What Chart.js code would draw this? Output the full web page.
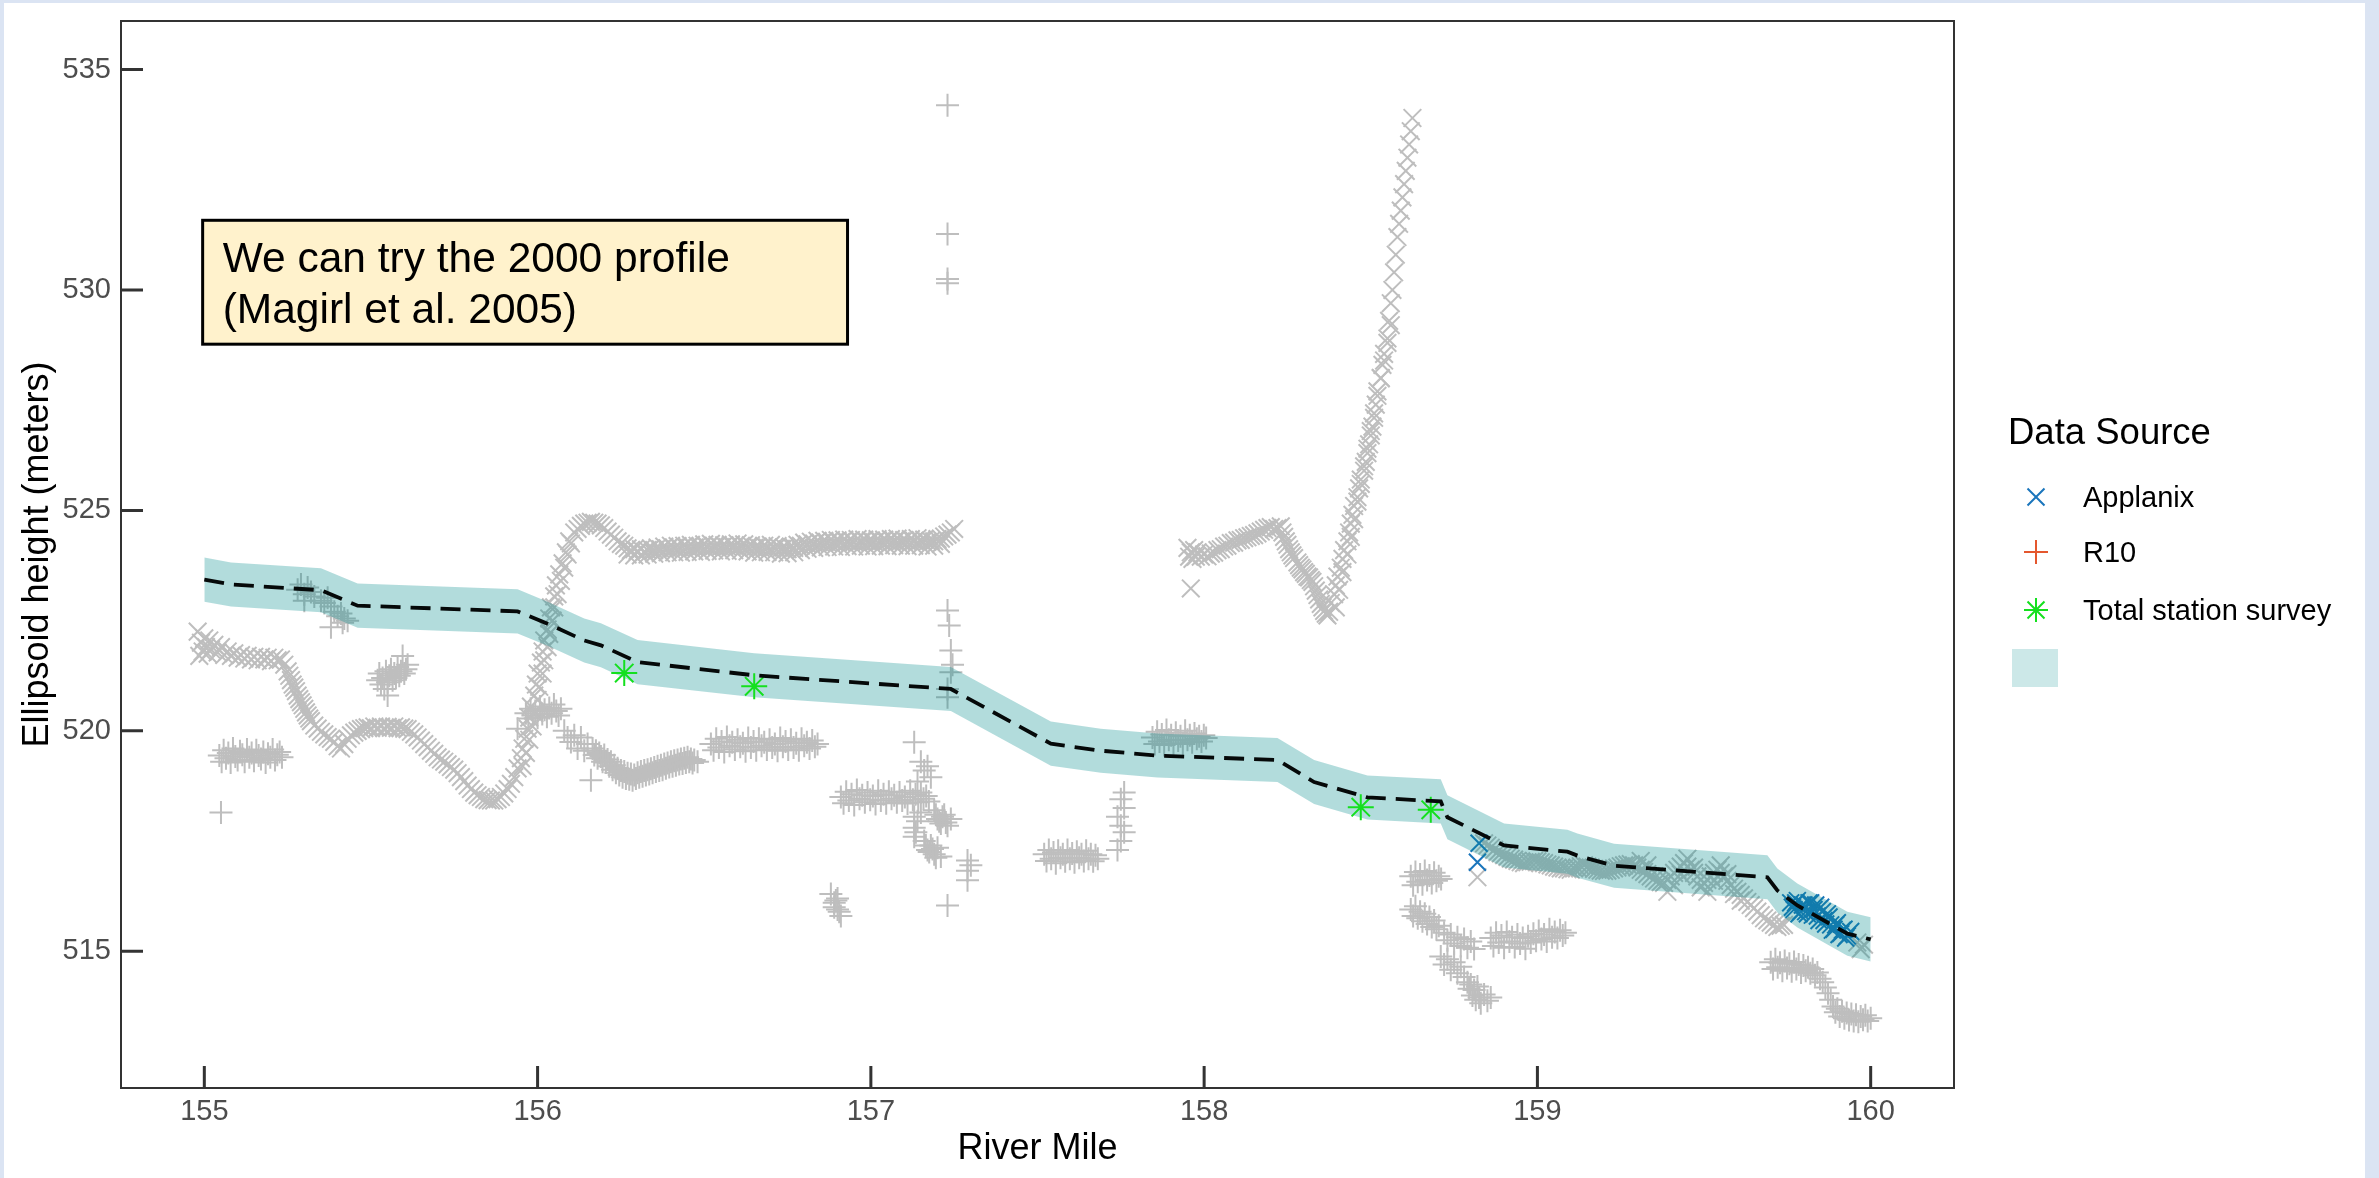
<!DOCTYPE html>
<html>
<head>
<meta charset="utf-8">
<title>River profile, miles 155-160</title>
<script src="https://cdn.jsdelivr.net/npm/chart.js@4.4.1/dist/chart.umd.min.js"></script>
<style>
  html, body { margin: 0; padding: 0; background: #dbe4f3; overflow: hidden; }
  #frame { position: absolute; left: 4px; top: 3px; width: 2361px; height: 1175px; background: #fff; }
  #chart { position: absolute; left: 0; top: 0; }
</style>
</head>
<body>
<div id="frame"></div>
<canvas id="chart" width="2379" height="1178"></canvas>
<script>
// axis ticks
const xTicks = [155, 156, 157, 158, 159, 160];
const yTicks = [515, 520, 525, 530, 535];

// 2000 longitudinal profile (river mile, ellipsoid height)
const profileMile = [155.00, 155.08, 155.35, 155.46, 155.94, 156.03, 156.14, 156.19, 156.30, 156.65,
  157.24, 157.54, 157.69, 157.86, 158.22, 158.33, 158.49, 158.71, 158.73, 158.90,
  159.09, 159.12, 159.23, 159.69, 159.72, 159.78, 159.93, 160.00];
const profileElev = [523.43, 523.32, 523.19, 522.84, 522.71, 522.43, 522.05, 521.94, 521.56, 521.26,
  520.95, 519.71, 519.55, 519.44, 519.34, 518.84, 518.49, 518.40, 518.04, 517.40,
  517.26, 517.17, 516.94, 516.68, 516.38, 516.04, 515.40, 515.27];
const bandHalfWidth = 0.5; // tolerance around the profile (m)

const sourceLabels = ['Applanix', 'R10', 'Total station survey'];

// points kept (inside tolerance)
const surveyPts = [[156.26, 521.31], [156.65, 521.01], [158.47, 518.27], [158.68, 518.21]];
const applanixPts = [[158.82, 517.02], [158.825, 517.45],
  [159.76, 516.1], [159.765, 516.0], [159.77, 515.95], [159.775, 516.1], [159.78, 516.15], [159.785, 515.85],
  [159.79, 515.9], [159.795, 516.05], [159.80, 516.05], [159.805, 515.9], [159.81, 515.85], [159.815, 516.1],
  [159.82, 516.1], [159.825, 515.82], [159.83, 515.95], [159.835, 516.05], [159.84, 515.8], [159.845, 515.7],
  [159.85, 516.0], [159.855, 515.9], [159.86, 515.7], [159.865, 515.62], [159.87, 515.85], [159.875, 515.78],
  [159.88, 515.6], [159.885, 515.48], [159.89, 515.5], [159.895, 515.6], [159.90, 515.65], [159.905, 515.38],
  [159.91, 515.4], [159.915, 515.48], [159.92, 515.5], [159.925, 515.3], [159.93, 515.35], [159.94, 515.45]];
const r10Pts = [];

// points rejected (outside tolerance), drawn in grey
const applanixOut = [
  [154.98, 522.25], [154.985, 521.7], [154.99, 522.0], [154.995, 521.8], [155.00, 522.1], [155.005, 521.9],
  [155.01, 521.75], [155.015, 522.05], [155.02, 521.85], [155.03, 521.95], [155.04, 521.78], [155.05, 521.9],
  [155.06, 521.72], [155.07, 521.8], [155.08, 521.7], [155.09, 521.76], [155.10, 521.66], [155.11, 521.72],
  [155.12, 521.64], [155.13, 521.7], [155.14, 521.62], [155.15, 521.68], [155.16, 521.6], [155.17, 521.68],
  [155.18, 521.62], [155.19, 521.66], [155.20, 521.58], [155.21, 521.66], [155.22, 521.6], [155.23, 521.62],
  [155.24, 521.5], [155.25, 521.35], [155.255, 521.25], [155.26, 521.15], [155.265, 521.05], [155.27, 520.98],
  [155.275, 520.9], [155.28, 520.8], [155.285, 520.72], [155.29, 520.65], [155.295, 520.58], [155.30, 520.5],
  [155.305, 520.42], [155.31, 520.35], [155.315, 520.28], [155.32, 520.22], [155.33, 520.12], [155.34, 520.05],
  [155.35, 519.98], [155.36, 519.92], [155.37, 519.86], [155.38, 519.82], [155.39, 519.75], [155.40, 519.65],
  [155.41, 519.6], [155.42, 519.7], [155.43, 519.82], [155.44, 519.9], [155.45, 519.96], [155.46, 520.0],
  [155.47, 520.04], [155.48, 520.06], [155.49, 520.08], [155.50, 520.06], [155.51, 520.1], [155.52, 520.07],
  [155.53, 520.1], [155.54, 520.06], [155.55, 520.09], [155.56, 520.07], [155.57, 520.1], [155.58, 520.06],
  [155.59, 520.08], [155.60, 520.05], [155.61, 520.04], [155.62, 519.98], [155.63, 519.92], [155.64, 519.85],
  [155.65, 519.78], [155.66, 519.7], [155.67, 519.63], [155.68, 519.55], [155.69, 519.48], [155.70, 519.4],
  [155.71, 519.35], [155.72, 519.3], [155.73, 519.24], [155.74, 519.18], [155.75, 519.12], [155.76, 519.04],
  [155.77, 518.95], [155.78, 518.86], [155.79, 518.76], [155.80, 518.68], [155.81, 518.6], [155.82, 518.54],
  [155.83, 518.5], [155.84, 518.45], [155.85, 518.43], [155.86, 518.42], [155.87, 518.42], [155.88, 518.45],
  [155.89, 518.5], [155.90, 518.58], [155.91, 518.68], [155.92, 518.8], [155.93, 518.95],
  [155.94, 519.15], [155.95, 519.38], [155.955, 519.6], [155.96, 519.82], [155.97, 520.05], [155.975, 520.3],
  [155.98, 520.55], [155.99, 520.8], [155.995, 521.05], [156.0, 521.3], [156.01, 521.55], [156.015, 521.8],
  [156.02, 522.05], [156.03, 522.3], [156.035, 522.55], [156.04, 522.8], [156.05, 523.05], [156.055, 523.3],
  [156.065, 523.55], [156.075, 523.8], [156.085, 524.05], [156.095, 524.3],
  [155.955, 519.2], [155.965, 519.5], [155.975, 519.8], [155.985, 520.1], [155.99, 520.4], [156.0, 520.7],
  [156.005, 521.0], [156.015, 521.3], [156.02, 521.6], [156.03, 521.9], [156.035, 522.2], [156.045, 522.5],
  [156.05, 522.8], [156.06, 523.1], [156.07, 523.4], [156.08, 523.7], [156.09, 524.0], [156.1, 524.25],
  [156.11, 524.5], [156.12, 524.58], [156.13, 524.65], [156.14, 524.7], [156.15, 524.72], [156.16, 524.74],
  [156.17, 524.72], [156.18, 524.7], [156.19, 524.66], [156.20, 524.6], [156.21, 524.52], [156.22, 524.45],
  [156.23, 524.38], [156.24, 524.3], [156.25, 524.24],
  [156.26, 524.2], [156.27, 524.14], [156.28, 524.1], [156.29, 524.12], [156.30, 524.08], [156.31, 524.12],
  [156.32, 524.06], [156.33, 524.1], [156.34, 524.14], [156.35, 524.1], [156.36, 524.16], [156.37, 524.12],
  [156.38, 524.18], [156.39, 524.14], [156.40, 524.2], [156.41, 524.15], [156.42, 524.19], [156.43, 524.14],
  [156.44, 524.2], [156.45, 524.17], [156.46, 524.22], [156.47, 524.16], [156.48, 524.2], [156.49, 524.18],
  [156.50, 524.23], [156.51, 524.18], [156.52, 524.24], [156.53, 524.19], [156.54, 524.22], [156.55, 524.17],
  [156.56, 524.21], [156.57, 524.17], [156.58, 524.23], [156.59, 524.19], [156.60, 524.25], [156.61, 524.2],
  [156.62, 524.23], [156.63, 524.18], [156.64, 524.21], [156.65, 524.15], [156.66, 524.18], [156.67, 524.14],
  [156.68, 524.2], [156.69, 524.16], [156.70, 524.22], [156.71, 524.17], [156.72, 524.19], [156.73, 524.13],
  [156.74, 524.16], [156.75, 524.12], [156.76, 524.18], [156.77, 524.15], [156.78, 524.22], [156.79, 524.2],
  [156.80, 524.27], [156.81, 524.23], [156.82, 524.29], [156.83, 524.25], [156.84, 524.31], [156.85, 524.26],
  [156.86, 524.31], [156.87, 524.27], [156.88, 524.33], [156.89, 524.28], [156.90, 524.32], [156.91, 524.28],
  [156.92, 524.34], [156.93, 524.29], [156.94, 524.33], [156.95, 524.28], [156.96, 524.35], [156.97, 524.3],
  [156.98, 524.34], [156.99, 524.29], [157.00, 524.32], [157.01, 524.28], [157.02, 524.35], [157.03, 524.3],
  [157.04, 524.34], [157.05, 524.3], [157.06, 524.35], [157.07, 524.31], [157.08, 524.36], [157.09, 524.3],
  [157.10, 524.33], [157.11, 524.29], [157.12, 524.35], [157.13, 524.31], [157.14, 524.37], [157.15, 524.32],
  [157.16, 524.34], [157.17, 524.29], [157.18, 524.31], [157.19, 524.3], [157.20, 524.35], [157.21, 524.36],
  [157.22, 524.41], [157.23, 524.45], [157.24, 524.5], [157.25, 524.58],
  [156.27, 524.0], [156.29, 523.98], [156.31, 523.98], [156.33, 524.0], [156.35, 524.02], [156.37, 524.03],
  [156.39, 524.05], [156.41, 524.05], [156.43, 524.04], [156.45, 524.06], [156.47, 524.07], [156.49, 524.06],
  [156.51, 524.08], [156.53, 524.09], [156.55, 524.07], [156.57, 524.08], [156.59, 524.1], [156.61, 524.09],
  [156.63, 524.07], [156.65, 524.04], [156.67, 524.05], [156.69, 524.06], [156.71, 524.05], [156.73, 524.02],
  [156.75, 524.03], [156.77, 524.05], [156.79, 524.1], [156.81, 524.13], [156.83, 524.15], [156.85, 524.16],
  [156.87, 524.17], [156.89, 524.18], [156.91, 524.17], [156.93, 524.19], [156.95, 524.18], [156.97, 524.2],
  [156.99, 524.18], [157.01, 524.19], [157.03, 524.2], [157.05, 524.19], [157.07, 524.21], [157.09, 524.2],
  [157.11, 524.19], [157.13, 524.2], [157.15, 524.21], [157.17, 524.18], [157.19, 524.2], [157.21, 524.24],
  [157.96, 523.23], [157.95, 524.15], [157.955, 523.95], [157.96, 524.05], [157.965, 523.9], [157.97, 524.1],
  [157.975, 523.95], [157.98, 524.05], [157.99, 523.95], [158.00, 524.0], [158.01, 523.96], [158.02, 524.02],
  [158.03, 524.04], [158.04, 524.1], [158.05, 524.12], [158.06, 524.18], [158.07, 524.2], [158.08, 524.26],
  [158.09, 524.27], [158.10, 524.32], [158.11, 524.33], [158.12, 524.37], [158.13, 524.39], [158.14, 524.42],
  [158.15, 524.44], [158.16, 524.48], [158.17, 524.52], [158.18, 524.56], [158.19, 524.6], [158.20, 524.62],
  [158.21, 524.58], [158.22, 524.6], [158.23, 524.64], [158.235, 524.5], [158.24, 524.4], [158.245, 524.3],
  [158.25, 524.22], [158.255, 524.12], [158.26, 524.05], [158.265, 523.98], [158.27, 523.92], [158.28, 523.82],
  [158.285, 523.76], [158.29, 523.7], [158.295, 523.66], [158.30, 523.6], [158.305, 523.56], [158.31, 523.5],
  [158.315, 523.48], [158.32, 523.42], [158.325, 523.38], [158.33, 523.28], [158.335, 523.18], [158.34, 523.08],
  [158.345, 522.98], [158.35, 522.88], [158.355, 522.8], [158.36, 522.72], [158.365, 522.66], [158.37, 522.62],
  [158.375, 522.7], [158.38, 522.9], [158.39, 523.1], [158.395, 523.3], [158.40, 523.5], [158.41, 523.7],
  [158.415, 523.9], [158.42, 524.1], [158.43, 524.3], [158.435, 524.5], [158.44, 524.7], [158.445, 524.9],
  [158.45, 525.1], [158.46, 525.3], [158.465, 525.5], [158.47, 525.7], [158.48, 525.9], [158.485, 526.1],
  [158.49, 526.3], [158.495, 526.5], [158.50, 526.7], [158.505, 526.9], [158.51, 527.1], [158.515, 527.4],
  [158.52, 527.7], [158.53, 528.0], [158.535, 528.3], [158.54, 528.55], [158.55, 528.9], [158.555, 529.3],
  [158.56, 529.7], [158.565, 530.0], [158.57, 530.4], [158.575, 530.8], [158.58, 531.2], [158.585, 531.5],
  [158.59, 531.8], [158.595, 532.1], [158.60, 532.4], [158.605, 532.7], [158.61, 533.0], [158.615, 533.3],
  [158.62, 533.6], [158.625, 533.9],
  [158.395, 522.8], [158.405, 523.2], [158.415, 523.6], [158.43, 524.0], [158.44, 524.4], [158.45, 524.8],
  [158.46, 525.2], [158.47, 525.6], [158.48, 526.0], [158.49, 526.4], [158.50, 526.8], [158.51, 527.2],
  [158.52, 527.6], [158.53, 528.0], [158.54, 528.4], [158.55, 528.8], [158.56, 529.2],
  [158.82, 516.68], [158.84, 517.45], [158.85, 517.4], [158.86, 517.35], [158.87, 517.3], [158.88, 517.25],
  [158.89, 517.22], [158.90, 517.18], [158.91, 517.14], [158.92, 517.1], [158.93, 517.08], [158.94, 517.05],
  [158.95, 517.02], [158.96, 517.0], [158.97, 517.02], [158.98, 517.03], [158.99, 517.05], [159.00, 517.04],
  [159.01, 517.02], [159.02, 517.0], [159.03, 516.97], [159.04, 516.95], [159.05, 516.92], [159.06, 516.9],
  [159.07, 516.88], [159.08, 516.88], [159.09, 516.86], [159.10, 516.85], [159.11, 516.88], [159.12, 516.9],
  [159.13, 516.93], [159.14, 516.95], [159.15, 516.92], [159.16, 516.9], [159.17, 516.87], [159.18, 516.85],
  [159.19, 516.83], [159.20, 516.82], [159.21, 516.83], [159.22, 516.85], [159.23, 516.88], [159.24, 516.9],
  [159.25, 516.93], [159.26, 516.95], [159.27, 516.97], [159.28, 516.98], [159.29, 516.95], [159.30, 516.9],
  [159.31, 516.85], [159.32, 516.8], [159.33, 516.75], [159.34, 516.7], [159.35, 516.65], [159.36, 516.6],
  [159.37, 516.57], [159.38, 516.55], [159.39, 516.62], [159.40, 516.7], [159.41, 516.78], [159.42, 516.85],
  [159.43, 516.92], [159.44, 517.0], [159.45, 516.92], [159.46, 516.85], [159.47, 516.78], [159.48, 516.7],
  [159.49, 516.62], [159.50, 516.55], [159.51, 516.62], [159.52, 516.7], [159.53, 516.78], [159.54, 516.85],
  [159.55, 516.78], [159.56, 516.7], [159.57, 516.6], [159.58, 516.5], [159.59, 516.42], [159.60, 516.35],
  [159.61, 516.28], [159.62, 516.2], [159.63, 516.12], [159.64, 516.05], [159.65, 515.98], [159.66, 515.9],
  [159.67, 515.82], [159.68, 515.75], [159.69, 515.7], [159.70, 515.65], [159.71, 515.6], [159.72, 515.55],
  [159.73, 515.58], [159.74, 515.6],
  [159.31, 517.05], [159.33, 516.95], [159.39, 516.35], [159.41, 516.5], [159.43, 516.75], [159.45, 517.1],
  [159.47, 516.9], [159.49, 516.45], [159.51, 516.35], [159.53, 516.6], [159.55, 516.95], [159.57, 516.75],
  [159.59, 516.3], [159.61, 516.15],
  [159.96, 515.2], [159.97, 515.05], [159.98, 515.15]
];
const r10Out = [
  [155.29, 523.32], [155.30, 523.1], [155.31, 523.25], [155.32, 523.15], [155.30, 522.95], [155.36, 522.9],
  [155.37, 523.02], [155.38, 522.82], [155.39, 522.7], [155.40, 522.6], [155.41, 522.66], [155.42, 522.55],
  [155.38, 522.35], [155.28, 523.2], [155.33, 523.05], [155.35, 522.95], [155.43, 522.5], [155.415, 522.45],
  [155.05, 518.15],
  [155.045, 519.44], [155.052, 519.3], [155.058, 519.56], [155.065, 519.38], [155.072, 519.5], [155.079, 519.28],
  [155.086, 519.6], [155.093, 519.42], [155.1, 519.34], [155.107, 519.54], [155.114, 519.46], [155.121, 519.3],
  [155.128, 519.58], [155.135, 519.4], [155.142, 519.5], [155.149, 519.32], [155.156, 519.56], [155.163, 519.44],
  [155.17, 519.36], [155.177, 519.52], [155.184, 519.28], [155.191, 519.48], [155.198, 519.4], [155.205, 519.58],
  [155.212, 519.34], [155.219, 519.46], [155.226, 519.52], [155.233, 519.4],
  [155.52, 521.15], [155.525, 521.3], [155.53, 521.05], [155.535, 521.2], [155.54, 520.95], [155.545, 521.35],
  [155.55, 521.1], [155.555, 521.25], [155.56, 521.4], [155.565, 521.15], [155.57, 521.3], [155.575, 521.2],
  [155.58, 521.45], [155.585, 521.25], [155.59, 521.35], [155.595, 521.7], [155.60, 521.3], [155.605, 521.4],
  [155.61, 521.5], [155.55, 520.8],
  [155.94, 520.05], [155.965, 520.4], [155.972, 520.28], [155.979, 520.5], [155.986, 520.35], [155.993, 520.45],
  [156.0, 520.3], [156.007, 520.55], [156.014, 520.38], [156.021, 520.48], [156.028, 520.32], [156.035, 520.52],
  [156.042, 520.4], [156.049, 520.6], [156.056, 520.45], [156.063, 520.35], [156.07, 520.5],
  [156.08, 520.0], [156.09, 519.85], [156.10, 519.75], [156.11, 519.9], [156.12, 519.6], [156.13, 519.85],
  [156.14, 519.55], [156.15, 519.7], [156.16, 518.88], [156.165, 519.6], [156.17, 519.45], [156.175, 519.55],
  [156.18, 519.38], [156.185, 519.5], [156.19, 519.42], [156.195, 519.3], [156.20, 519.45], [156.205, 519.28],
  [156.21, 519.35], [156.215, 519.2], [156.22, 519.3], [156.225, 519.12], [156.23, 519.22], [156.235, 519.05],
  [156.24, 519.15], [156.245, 519.0], [156.25, 519.1], [156.255, 518.95], [156.26, 519.08], [156.265, 518.92],
  [156.27, 519.04], [156.275, 518.9], [156.28, 519.02], [156.285, 518.88], [156.29, 519.0], [156.295, 518.92],
  [156.30, 519.05], [156.305, 518.95], [156.31, 519.08], [156.315, 518.97], [156.32, 519.1], [156.325, 519.0],
  [156.33, 519.12], [156.335, 519.02], [156.34, 519.14], [156.345, 519.05], [156.35, 519.17], [156.355, 519.08],
  [156.36, 519.2], [156.365, 519.1], [156.37, 519.22], [156.375, 519.12], [156.38, 519.25], [156.385, 519.15],
  [156.39, 519.27], [156.395, 519.18], [156.40, 519.3], [156.405, 519.2], [156.41, 519.32], [156.415, 519.22],
  [156.42, 519.34], [156.425, 519.25], [156.43, 519.36], [156.435, 519.26], [156.44, 519.38], [156.445, 519.28],
  [156.45, 519.4], [156.455, 519.3], [156.46, 519.36], [156.465, 519.27], [156.47, 519.34], [156.48, 519.3],
  [156.52, 519.7], [156.528, 519.56], [156.536, 519.82], [156.544, 519.62], [156.552, 519.76], [156.56, 519.52],
  [156.568, 519.86], [156.576, 519.66], [156.584, 519.74], [156.592, 519.58], [156.60, 519.8], [156.608, 519.64],
  [156.616, 519.72], [156.624, 519.54], [156.632, 519.84], [156.64, 519.62], [156.648, 519.76], [156.656, 519.56],
  [156.664, 519.82], [156.672, 519.66], [156.68, 519.74], [156.688, 519.58], [156.696, 519.8], [156.704, 519.62],
  [156.712, 519.7], [156.72, 519.55], [156.728, 519.84], [156.736, 519.64], [156.744, 519.76], [156.752, 519.58],
  [156.76, 519.8], [156.768, 519.62], [156.776, 519.72], [156.784, 519.56], [156.792, 519.82], [156.80, 519.66],
  [156.808, 519.74], [156.816, 519.6], [156.824, 519.78], [156.832, 519.64], [156.84, 519.7],
  [156.91, 518.5], [156.918, 518.36], [156.926, 518.62], [156.934, 518.42], [156.942, 518.56], [156.95, 518.32],
  [156.958, 518.66], [156.966, 518.46], [156.974, 518.54], [156.982, 518.38], [156.99, 518.6], [156.998, 518.44],
  [157.006, 518.52], [157.014, 518.34], [157.022, 518.64], [157.03, 518.42], [157.038, 518.56], [157.046, 518.36],
  [157.054, 518.62], [157.062, 518.46], [157.07, 518.54], [157.078, 518.38], [157.086, 518.6], [157.094, 518.42],
  [157.102, 518.5], [157.11, 518.35], [157.118, 518.64], [157.126, 518.44], [157.134, 518.56], [157.142, 518.38],
  [157.15, 518.6], [157.158, 518.46], [157.166, 518.52], [157.174, 518.4],
  [157.13, 519.74], [157.15, 519.3], [157.16, 519.1], [157.17, 519.2], [157.18, 518.95], [157.14, 518.85],
  [157.13, 518.05], [157.13, 517.8], [157.13, 517.6], [157.14, 517.95], [157.15, 518.15], [157.135, 517.7],
  [157.19, 518.2], [157.20, 518.0], [157.21, 517.9], [157.22, 518.1], [157.23, 517.85], [157.24, 518.0],
  [157.195, 518.1], [157.205, 517.95], [157.215, 518.05], [157.225, 517.92],
  [157.16, 517.5], [157.17, 517.3], [157.18, 517.4], [157.19, 517.2], [157.20, 517.35], [157.21, 517.15],
  [157.165, 517.4], [157.175, 517.25], [157.185, 517.32], [157.195, 517.12],
  [157.29, 517.06], [157.29, 516.83], [157.29, 516.61], [157.30, 516.95], [157.23, 516.04],
  [156.88, 516.3], [156.89, 516.1], [156.90, 515.95], [156.90, 516.2], [156.91, 515.8], [156.89, 516.0],
  [156.895, 516.15], [156.905, 515.9],
  [157.23, 534.19], [157.23, 531.27], [157.23, 530.25], [157.23, 530.15], [157.23, 522.73], [157.235, 522.39],
  [157.24, 521.82], [157.245, 521.5], [157.24, 521.33], [157.23, 520.95], [157.23, 520.76],
  [157.52, 517.2], [157.527, 517.05], [157.534, 517.3], [157.541, 517.1], [157.548, 517.24], [157.555, 517.0],
  [157.562, 517.28], [157.569, 517.12], [157.576, 517.2], [157.583, 517.04], [157.59, 517.3], [157.597, 517.1],
  [157.604, 517.22], [157.611, 517.02], [157.618, 517.26], [157.625, 517.12], [157.632, 517.2], [157.639, 517.05],
  [157.646, 517.28], [157.653, 517.1], [157.66, 517.2], [157.667, 517.04], [157.674, 517.18], [157.681, 517.1],
  [157.75, 518.45], [157.76, 518.25], [157.74, 518.05], [157.75, 517.85], [157.76, 517.7], [157.75, 517.5],
  [157.74, 517.3], [157.76, 518.6],
  [157.845, 519.85], [157.852, 519.7], [157.859, 519.98], [157.866, 519.76], [157.873, 519.92], [157.88, 519.68],
  [157.887, 520.02], [157.894, 519.8], [157.901, 519.9], [157.908, 519.72], [157.915, 519.96], [157.922, 519.78],
  [157.929, 519.88], [157.936, 519.7], [157.943, 520.0], [157.95, 519.8], [157.957, 519.9], [157.964, 519.74],
  [157.971, 519.94], [157.978, 519.82], [157.985, 519.88], [157.992, 519.76], [157.999, 519.9], [158.006, 519.84],
  [158.62, 516.7], [158.627, 516.5], [158.634, 516.8], [158.641, 516.58], [158.648, 516.74], [158.655, 516.52],
  [158.662, 516.82], [158.669, 516.62], [158.676, 516.72], [158.683, 516.55], [158.69, 516.78], [158.697, 516.6],
  [158.704, 516.7], [158.711, 516.64],
  [158.62, 515.95], [158.627, 515.8], [158.634, 516.02], [158.641, 515.75], [158.648, 515.9], [158.655, 515.68],
  [158.662, 515.85], [158.669, 515.62], [158.676, 515.78], [158.683, 515.55], [158.69, 515.7], [158.697, 515.5],
  [158.704, 515.58],
  [158.72, 515.42], [158.73, 515.25], [158.74, 515.38], [158.75, 515.18], [158.76, 515.32], [158.77, 515.12],
  [158.78, 515.28], [158.79, 515.08], [158.80, 515.22], [158.81, 515.05],
  [158.71, 514.88], [158.72, 514.7], [158.73, 514.82], [158.74, 514.58], [158.75, 514.75], [158.76, 514.5],
  [158.77, 514.65], [158.78, 514.42],
  [158.79, 514.3], [158.795, 514.15], [158.80, 514.25], [158.805, 514.0], [158.81, 514.12], [158.815, 513.9],
  [158.82, 514.2], [158.825, 513.95], [158.83, 513.82], [158.84, 514.02], [158.85, 513.88], [158.86, 513.95],
  [158.86, 515.3], [158.868, 515.12], [158.876, 515.42], [158.884, 515.2], [158.892, 515.36], [158.90, 515.08],
  [158.908, 515.44], [158.916, 515.22], [158.924, 515.32], [158.932, 515.1], [158.94, 515.38], [158.948, 515.18],
  [158.956, 515.3], [158.964, 515.06], [158.972, 515.34], [158.98, 515.2], [158.988, 515.4], [158.996, 515.24],
  [159.004, 515.46], [159.012, 515.28], [159.02, 515.38], [159.028, 515.22], [159.036, 515.5], [159.044, 515.32],
  [159.052, 515.44], [159.06, 515.3], [159.068, 515.48], [159.076, 515.36], [159.084, 515.42],
  [159.70, 514.75], [159.707, 514.6], [159.714, 514.82], [159.721, 514.64], [159.728, 514.74], [159.735, 514.56],
  [159.742, 514.78], [159.749, 514.62], [159.756, 514.72], [159.763, 514.55], [159.77, 514.76], [159.777, 514.6],
  [159.784, 514.7], [159.791, 514.52], [159.798, 514.68], [159.805, 514.56], [159.812, 514.64], [159.819, 514.5],
  [159.826, 514.6], [159.833, 514.46], [159.84, 514.52], [159.848, 514.38], [159.856, 514.3], [159.864, 514.18],
  [159.872, 514.05], [159.88, 513.9], [159.887, 513.75], [159.894, 513.62], [159.90, 513.7], [159.907, 513.52],
  [159.914, 513.64], [159.921, 513.48], [159.928, 513.6], [159.935, 513.44], [159.942, 513.58], [159.949, 513.42],
  [159.956, 513.56], [159.963, 513.4], [159.97, 513.52], [159.977, 513.45], [159.984, 513.55], [159.991, 513.42],
  [160.0, 513.48]
];

// note box corners (mile, elevation)
const noteMile = [154.995, 156.93];
const noteElev = [531.58, 528.77];
const noteLines = ['We can try the 2000 profile', '(Magirl et al. 2005)'];

const FONT = "'Liberation Sans', Arial, sans-serif";
const GREY = '#bebebe';
const BLUE = '#1a75bc';
const ORANGE = '#e4572e';
const GREEN = '#14e01e';
const BAND = 'rgba(0, 139, 139, 0.3)';
const AREA = { left: 121, top: 21, right: 1954, bottom: 1088 };

const toXY = pts => pts.map(([x, y]) => ({ x, y }));
const profile = profileMile.map((m, i) => ({ x: m, y: profileElev[i] }));

function marker(ctx, style, x, y, r) {
  ctx.beginPath();
  if (style === 'cross' || style === 'star') {
    ctx.moveTo(x - r, y); ctx.lineTo(x + r, y);
    ctx.moveTo(x, y - r); ctx.lineTo(x, y + r);
  }
  if (style === 'crossRot' || style === 'star') {
    const d = r * Math.SQRT1_2;
    ctx.moveTo(x - d, y - d); ctx.lineTo(x + d, y + d);
    ctx.moveTo(x - d, y + d); ctx.lineTo(x + d, y - d);
  }
  ctx.stroke();
}

const frameAndLegend = {
  id: 'frameAndLegend',
  afterDatasetsDraw(chart) {
    const { ctx, chartArea: a, scales } = chart;
    ctx.save();
    ctx.strokeStyle = '#333';
    // inward tick marks
    ctx.lineWidth = 3;
    ctx.beginPath();
    xTicks.forEach(v => {
      const px = scales.x.getPixelForValue(v);
      ctx.moveTo(px, a.bottom); ctx.lineTo(px, a.bottom - 22);
    });
    yTicks.forEach(v => {
      const py = scales.y.getPixelForValue(v);
      ctx.moveTo(a.left, py); ctx.lineTo(a.left + 22, py);
    });
    ctx.stroke();
    // panel border
    ctx.lineWidth = 2;
    ctx.strokeRect(a.left, a.top, a.right - a.left, a.bottom - a.top);
    ctx.restore();
  },
  afterDraw(chart) {
    const { ctx, chartArea: a, scales } = chart;
    ctx.save();
    ctx.fillStyle = '#000';

    // axis titles
    ctx.font = `36px ${FONT}`;
    ctx.textAlign = 'center';
    ctx.textBaseline = 'alphabetic';
    ctx.fillText('River Mile', (a.left + a.right) / 2, 1159);
    ctx.save();
    ctx.translate(48, (a.top + a.bottom) / 2);
    ctx.rotate(-Math.PI / 2);
    ctx.fillText('Ellipsoid height (meters)', 0, 0);
    ctx.restore();

    // note box
    const bx0 = scales.x.getPixelForValue(noteMile[0]);
    const bx1 = scales.x.getPixelForValue(noteMile[1]);
    const by0 = scales.y.getPixelForValue(noteElev[0]);
    const by1 = scales.y.getPixelForValue(noteElev[1]);
    ctx.fillStyle = '#fff2cc';
    ctx.fillRect(bx0, by0, bx1 - bx0, by1 - by0);
    ctx.lineWidth = 3;
    ctx.strokeStyle = '#000';
    ctx.strokeRect(bx0, by0, bx1 - bx0, by1 - by0);
    ctx.fillStyle = '#000';
    ctx.font = `42.5px ${FONT}`;
    ctx.textAlign = 'left';
    noteLines.forEach((t, i) => ctx.fillText(t, bx0 + 20, by0 + 52 + i * 51));

    // legend
    const lx = a.right + 54;
    ctx.font = `36.5px ${FONT}`;
    ctx.fillText('Data Source', lx, 444);
    const styles = ['crossRot', 'cross', 'star'];
    const colors = [BLUE, ORANGE, GREEN];
    const rows = [497, 552, 610];
    ctx.font = `29px ${FONT}`;
    sourceLabels.forEach((label, i) => {
      ctx.strokeStyle = colors[i];
      ctx.lineWidth = 2;
      marker(ctx, styles[i], lx + 28, rows[i], 12);
      ctx.fillStyle = '#000';
      ctx.fillText(label, lx + 75, rows[i] + 10);
    });
    ctx.fillStyle = 'rgba(0, 139, 139, 0.2)';
    ctx.fillRect(lx + 4, 649, 46, 38);
    ctx.restore();
  }
};

Chart.defaults.font.family = FONT;

new Chart(document.getElementById('chart'), {
  type: 'scatter',
  data: {
    datasets: [
      {
        type: 'line', label: 'Profile', data: profile,
        borderColor: '#050909', borderWidth: 3.8, borderDash: [20, 10],
        pointRadius: 0, fill: false, tension: 0, order: 0
      },
      {
        label: sourceLabels[2], data: toXY(surveyPts),
        pointStyle: 'star', pointRadius: 13, pointBorderColor: GREEN,
        pointBackgroundColor: 'transparent', pointBorderWidth: 2, order: 1
      },
      {
        type: 'line', label: 'Tolerance low',
        data: profile.map(p => ({ x: p.x, y: p.y - bandHalfWidth })),
        borderWidth: 0, borderColor: 'transparent', pointRadius: 0, fill: false, order: 2
      },
      {
        type: 'line', label: 'Tolerance high',
        data: profile.map(p => ({ x: p.x, y: p.y + bandHalfWidth })),
        borderWidth: 0, borderColor: 'transparent', pointRadius: 0,
        fill: '-1', backgroundColor: BAND, order: 2
      },
      {
        label: sourceLabels[0], data: toXY(applanixPts),
        pointStyle: 'crossRot', pointRadius: 12, pointBorderColor: BLUE,
        pointBackgroundColor: 'transparent', pointBorderWidth: 2, order: 3
      },
      {
        label: sourceLabels[1], data: toXY(r10Pts),
        pointStyle: 'cross', pointRadius: 12, pointBorderColor: ORANGE,
        pointBackgroundColor: 'transparent', pointBorderWidth: 2, order: 3
      },
      {
        label: 'Applanix (outside)', data: toXY(applanixOut),
        pointStyle: 'crossRot', pointRadius: 12.5, pointBorderColor: GREY,
        pointBackgroundColor: 'transparent', pointBorderWidth: 2, order: 4
      },
      {
        label: 'R10 (outside)', data: toXY(r10Out),
        pointStyle: 'cross', pointRadius: 11.5, pointBorderColor: GREY,
        pointBackgroundColor: 'transparent', pointBorderWidth: 2, order: 4
      }
    ]
  },
  options: {
    responsive: false,
    animation: false,
    events: [],
    layout: { padding: { left: 0, top: AREA.top, right: 2379 - AREA.right, bottom: 0 } },
    plugins: { legend: { display: false }, tooltip: { enabled: false } },
    scales: {
      x: {
        type: 'linear', min: 154.75, max: 160.25,
        afterFit: s => {
          s.height = 1178 - AREA.bottom;
          s.paddingLeft = 0; s.paddingRight = 0;
        },
        afterBuildTicks: s => { s.ticks = xTicks.map(v => ({ value: v })); },
        grid: { display: false, drawTicks: false },
        border: { display: false },
        ticks: { color: '#4d4d4d', font: { size: 29 }, padding: 7, maxRotation: 0, callback: v => String(v) }
      },
      y: {
        type: 'linear', min: 511.9, max: 536.1,
        afterFit: s => {
          s.width = AREA.left;
          // labels sit well inside the panel, so no overhang padding is needed
          s.paddingTop = 0; s.paddingBottom = 0;
        },
        afterBuildTicks: s => { s.ticks = yTicks.map(v => ({ value: v })); },
        grid: { display: false, drawTicks: false },
        border: { display: false },
        ticks: { color: '#4d4d4d', font: { size: 29 }, padding: 10, callback: v => String(v) }
      }
    }
  },
  plugins: [frameAndLegend]
});
</script>
</body>
</html>
